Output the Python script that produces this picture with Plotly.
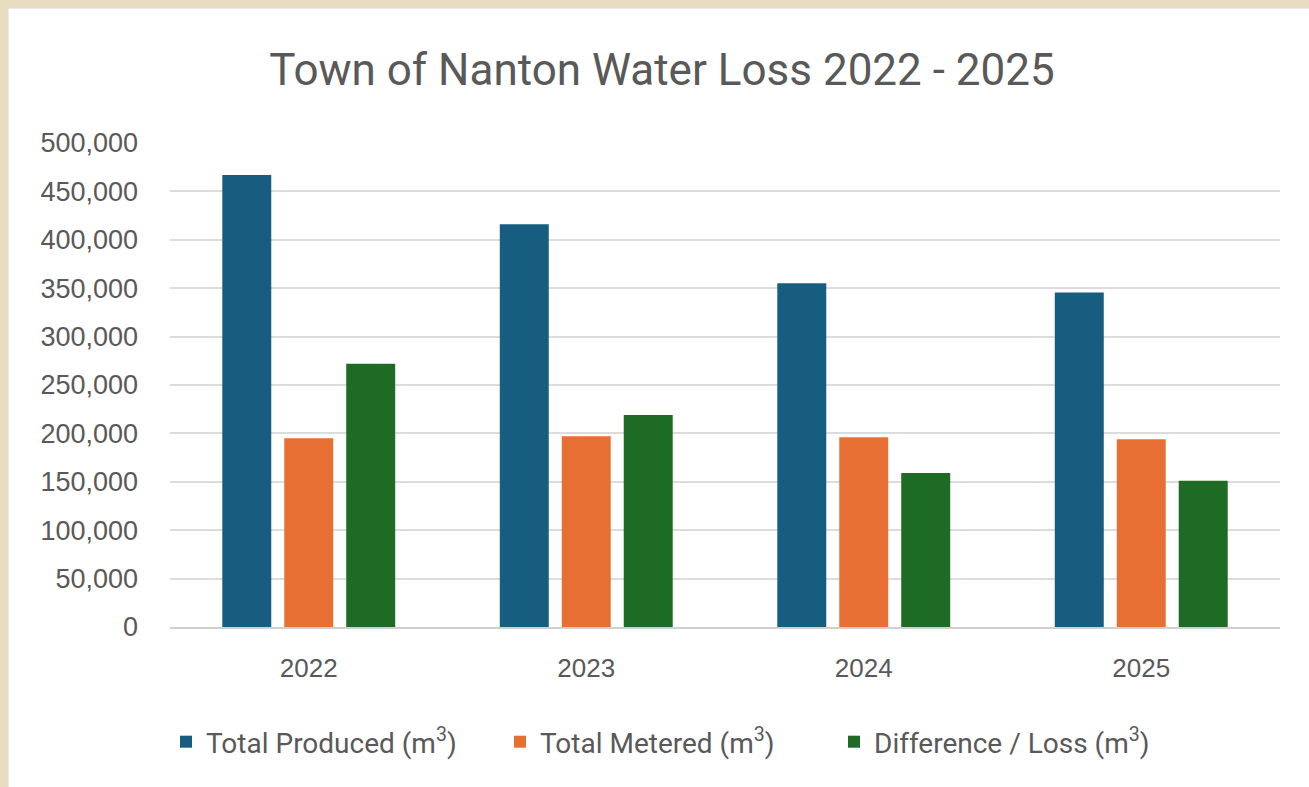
import plotly.graph_objects as go

years = ["2022", "2023", "2024", "2025"]
total_produced = [467000, 416000, 355000, 345500]
total_metered = [195000, 197000, 196000, 194000]
difference_loss = [272000, 219000, 159000, 151000]

series_names = ["Total Produced (m<sup>3</sup>)", "Total Metered (m<sup>3</sup>)", "Difference / Loss (m<sup>3</sup>)"]
series_colors = ["#175D80", "#E86F33", "#1D6B24"]
y_ticks = [0, 50000, 100000, 150000, 200000, 250000, 300000, 350000, 400000, 450000, 500000]

W, H = 1309, 787
L, R, T, B = 170, 29, 143, 160
pw, ph = W - L - R, H - T - B

fig = go.Figure()
for name, vals, col in zip(series_names, [total_produced, total_metered, difference_loss], series_colors):
    fig.add_trace(go.Bar(x=years, y=vals, name=name, marker=dict(color=col, line=dict(width=0))))

def px_x(x):
    return (x - L) / pw

def px_y(y):
    return (H - B - y) / ph

fig.update_layout(
    width=W, height=H,
    margin=dict(l=L, r=R, t=T, b=B),
    paper_bgcolor="#E8DCC0",
    plot_bgcolor="white",
    barmode="group",
    bargap=0.33,
    bargroupgap=0.21,
    title=dict(text="Town of Nanton Water Loss 2022 - 2025", x=px_x(662), xref="paper", xanchor="center",
               y=1 - 70 / H, yanchor="middle",
               font=dict(family="Roboto, sans-serif", size=44, color="#595959")),
    font=dict(family="Liberation Sans, Arial, sans-serif", color="#595959"),
    xaxis=dict(showgrid=False, showline=True, linecolor="#D0D0D0", linewidth=2,
               tickfont=dict(size=26, color="#595959"), ticks="", ticklabelstandoff=17),
    yaxis=dict(range=[0, 500000], tickvals=y_ticks, tickformat=",d", showgrid=True, gridcolor="#DCDCDC", gridwidth=2,
               zeroline=False, showline=False, tickfont=dict(size=27, color="#595959"), ticks="",
               ticklabelstandoff=31),
    legend=dict(orientation="h", x=px_x(166), xanchor="left", y=px_y(742), yanchor="middle",
                font=dict(family="Roboto, sans-serif", size=28, color="#595959"),
                bgcolor="rgba(0,0,0,0)", itemwidth=30, entrywidth=289, entrywidthmode="pixels"),
    shapes=[dict(type="rect", xref="paper", yref="paper", x0=px_x(8), x1=px_x(1320), y0=px_y(800), y1=px_y(8),
                 fillcolor="white", line=dict(color="#DADADA", width=1), layer="below")],
)

fig.write_html("out.html", config={"displayModeBar": False},
               post_script="document.body.style.margin='0';document.body.style.padding='0';")
